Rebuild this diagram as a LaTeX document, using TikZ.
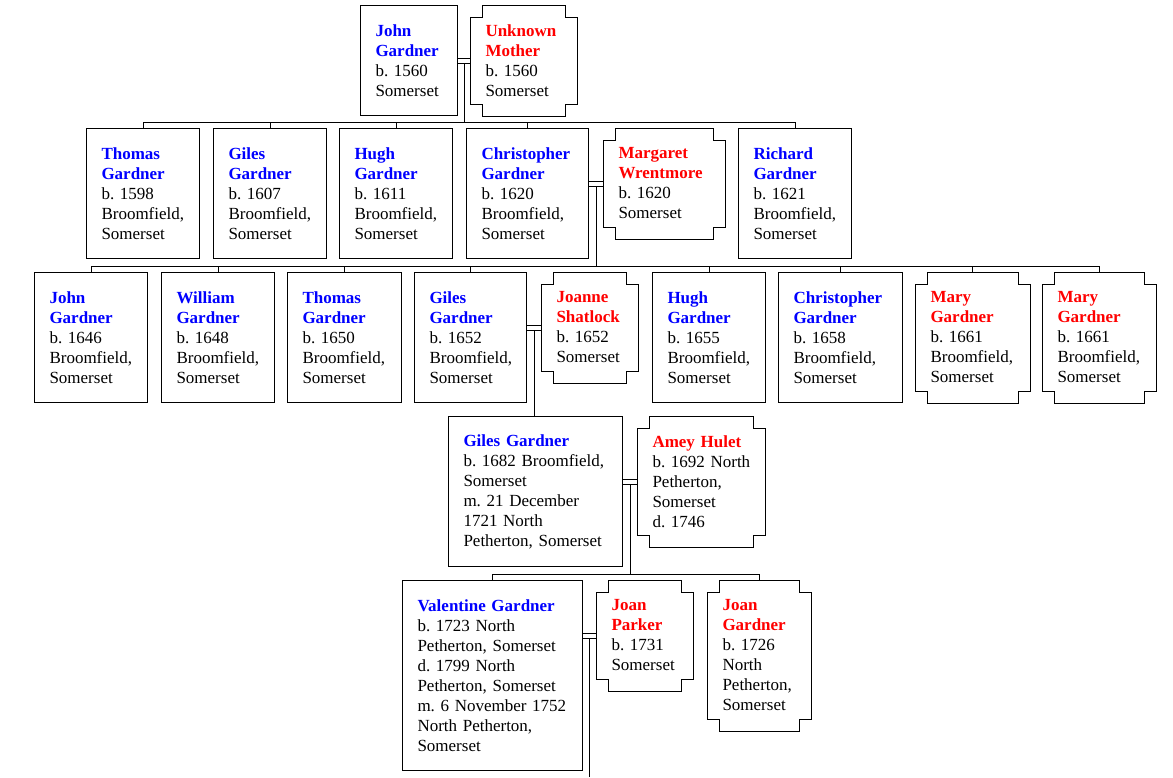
\documentclass[tikz,border=0pt]{standalone}
\usepackage{fontspec}
\setmainfont{Liberation Serif}
\usetikzlibrary{calc}
\frenchspacing

\tikzset{
  person/.style={draw, anchor=north west, align=left, inner xsep=15pt, inner ysep=0pt,
    font=\fontsize{17pt}{20pt}\selectfont},
  wife/.style={person, draw=none}
}
\newcommand\he[1]{\textcolor{blue}{\bfseries #1}}
\newcommand\she[1]{\textcolor{red}{\bfseries #1}}
\newcommand\notchbox[1]{%
  \draw ([xshift=12pt]#1.north west) -- ([xshift=-12pt]#1.north east)
    -- ([xshift=-12pt,yshift=-12pt]#1.north east) -- ([yshift=-12pt]#1.north east)
    -- ([yshift=12pt]#1.south east) -- ([xshift=-12pt,yshift=12pt]#1.south east)
    -- ([xshift=-12pt]#1.south east) -- ([xshift=12pt]#1.south west)
    -- ([xshift=12pt,yshift=12pt]#1.south west) -- ([yshift=12pt]#1.south west)
    -- ([yshift=-12pt]#1.north west) -- ([xshift=12pt,yshift=-12pt]#1.north west) -- cycle;}
\newcommand\wed[2]{%
  \draw ([yshift=2.5pt]#1.east |- #2.west) -- ([yshift=2.5pt]#2.west)
        ([yshift=-2.5pt]#1.east |- #2.west) -- ([yshift=-2.5pt]#2.west);}

\begin{document}
\begin{tikzpicture}[x=1pt, y=-1pt, line width=1pt]
  \useasboundingbox (0,0) rectangle (1173,777);

  \node[person, text width=67pt, minimum height=110pt] (john) at (360,5) {\he{John\\Gardner}\\b. 1560\\Somerset};
  \node[wife, text width=76pt, minimum height=110pt] (mother) at (470,5) {\she{Unknown\\Mother}\\b. 1560\\Somerset};
  \notchbox{mother}

  \node[person, text width=83pt, minimum height=130pt] (thomas1) at (86,128) {\he{Thomas\\Gardner}\\b. 1598\\Broomfield,\\Somerset};
  \node[person, text width=83pt, minimum height=130pt] (giles1) at (213,128) {\he{Giles\\Gardner}\\b. 1607\\Broomfield,\\Somerset};
  \node[person, text width=83pt, minimum height=130pt] (hugh1) at (339,128) {\he{Hugh\\Gardner}\\b. 1611\\Broomfield,\\Somerset};
  \node[person, text width=92pt, minimum height=130pt] (chris1) at (466,128) {\he{Christopher\\Gardner}\\b. 1620\\Broomfield,\\Somerset};
  \node[wife, text width=91pt, minimum height=110pt] (margaret) at (603,128) {\she{Margaret\\Wrentmore}\\b. 1620\\Somerset};
  \notchbox{margaret}
  \node[person, text width=83pt, minimum height=130pt] (richard1) at (738,128) {\he{Richard\\Gardner}\\b. 1621\\Broomfield,\\Somerset};

  \node[person, text width=83pt, minimum height=130pt] (john2) at (34,272) {\he{John\\Gardner}\\b. 1646\\Broomfield,\\Somerset};
  \node[person, text width=83pt, minimum height=130pt] (william2) at (161,272) {\he{William\\Gardner}\\b. 1648\\Broomfield,\\Somerset};
  \node[person, text width=84pt, minimum height=130pt] (thomas2) at (287,272) {\he{Thomas\\Gardner}\\b. 1650\\Broomfield,\\Somerset};
  \node[person, text width=82pt, minimum height=130pt] (giles2) at (414,272) {\he{Giles\\Gardner}\\b. 1652\\Broomfield,\\Somerset};
  \node[wife, text width=66pt, minimum height=110pt] (joanne) at (541,272) {\she{Joanne\\Shatlock}\\b. 1652\\Somerset};
  \notchbox{joanne}
  \node[person, text width=83pt, minimum height=130pt] (hugh2) at (652,272) {\he{Hugh\\Gardner}\\b. 1655\\Broomfield,\\Somerset};
  \node[person, text width=94pt, minimum height=130pt] (chris2) at (778,272) {\he{Christopher\\Gardner}\\b. 1658\\Broomfield,\\Somerset};
  \node[wife, text width=84pt, minimum height=130pt] (mary1) at (915,272) {\she{Mary\\Gardner}\\b. 1661\\Broomfield,\\Somerset};
  \notchbox{mary1}
  \node[wife, text width=83pt, minimum height=130pt] (mary2) at (1042,272) {\she{Mary\\Gardner}\\b. 1661\\Broomfield,\\Somerset};
  \notchbox{mary2}

  \node[person, text width=144pt, minimum height=150pt] (giles3) at (448,416) {\he{Giles Gardner}\\b. 1682 Broomfield,\\Somerset\\m. 21 December\\1721 North\\Petherton, Somerset};
  \node[wife, text width=97pt, minimum height=130pt] (amey) at (637,416) {\she{Amey Hulet}\\b.~1692~North\\Petherton,\\Somerset\\d. 1746};
  \notchbox{amey}

  \node[person, text width=150pt, minimum height=190pt] (valentine) at (402,580) {\he{Valentine Gardner}\\b. 1723 North\\Petherton, Somerset\\d. 1799 North\\Petherton, Somerset\\m. 6 November 1752\\North Petherton,\\Somerset};
  \node[wife, text width=66pt, minimum height=110pt] (parker) at (596,580) {\she{Joan\\Parker}\\b. 1731\\Somerset};
  \notchbox{parker}
  \node[wife, text width=73pt, minimum height=150pt] (joan) at (707,580) {\she{Joan\\Gardner}\\b. 1726\\North\\Petherton,\\Somerset};
  \notchbox{joan}

  \coordinate (m0) at ($([yshift=-2.5pt]john.east |- mother.west)!.5!([yshift=-2.5pt]mother.west)$);
  \coordinate (m1) at ($([yshift=-2.5pt]chris1.east |- margaret.west)!.5!([yshift=-2.5pt]margaret.west)$);
  \coordinate (m2) at ($([yshift=-2.5pt]giles2.east |- joanne.west)!.5!([yshift=-2.5pt]joanne.west)$);
  \coordinate (m3) at ($([yshift=-2.5pt]giles3.east |- amey.west)!.5!([yshift=-2.5pt]amey.west)$);
  \coordinate (m4) at ($([yshift=-2.5pt]valentine.east |- parker.west)!.5!([yshift=-2.5pt]parker.west)$);
  \coordinate (b0) at ([yshift=6pt]thomas1.north);
  \coordinate (b1) at ([yshift=6pt]john2.north);
  \coordinate (b3) at ([yshift=6pt]valentine.north);
  \coordinate (foot) at (0,777);

  \wed{john}{mother}
  \wed{chris1}{margaret}
  \wed{giles2}{joanne}
  \wed{giles3}{amey}
  \wed{valentine}{parker}

  \draw (m0) -- (m0 |- b0);
  \draw (thomas1.north |- b0) -- (richard1.north |- b0);
  \foreach \c in {thomas1,giles1,hugh1,chris1,richard1}
    \draw (\c.north) -- (\c.north |- b0);

  \draw (m1) -- (m1 |- b1);
  \draw (john2.north |- b1) -- (mary2.north |- b1);
  \foreach \c in {john2,william2,thomas2,giles2,hugh2,chris2,mary1,mary2}
    \draw (\c.north) -- (\c.north |- b1);

  \draw (m2) -- (m2 |- giles3.north);

  \draw (m3) -- (m3 |- b3);
  \draw (valentine.north |- b3) -- (joan.north |- b3);
  \foreach \c in {valentine,joan}
    \draw (\c.north) -- (\c.north |- b3);

  \draw (m4) -- (m4 |- foot);
\end{tikzpicture}
\end{document}
